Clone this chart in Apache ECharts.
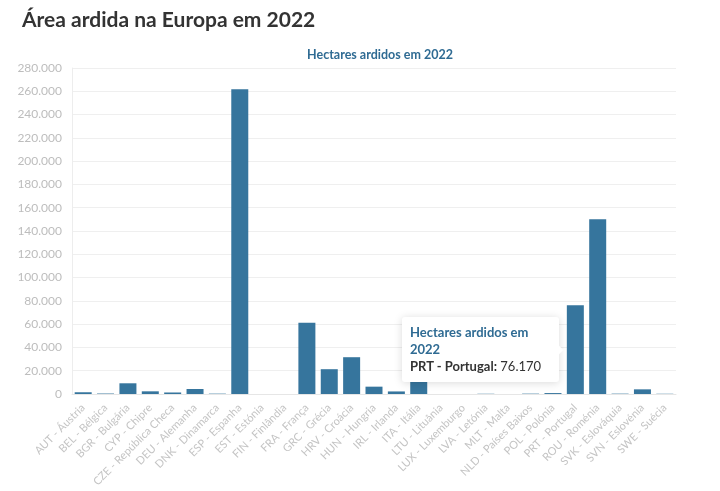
<!DOCTYPE html>
<html>
<head>
<meta charset="utf-8">
<script src="https://cdn.jsdelivr.net/npm/echarts@6/dist/echarts.min.js"></script>
<style>
  html, body { margin: 0; padding: 0; background: #fff; }
  #chart { width: 720px; height: 491px; }
</style>
</head>
<body>
<div id="chart"></div>
<script>
var countries = [
    'AUT - Áustria', 'BEL - Bélgica', 'BGR - Bulgária', 'CYP - Chipre', 'CZE - República Checa',
    'DEU - Alemanha', 'DNK - Dinamarca', 'ESP - Espanha', 'EST - Estónia', 'FIN - Finlândia',
    'FRA - França', 'GRC - Grécia', 'HRV - Croácia', 'HUN - Hungria', 'IRL - Irlanda',
    'ITA - Itália', 'LTU - Lituânia', 'LUX - Luxemburgo', 'LVA - Letónia', 'MLT - Malta',
    'NLD - Países Baixos', 'POL - Polónia', 'PRT - Portugal', 'ROU - Roménia', 'SVK - Eslováquia',
    'SVN - Eslovénia', 'SWE - Suécia'
];
var hectares = [
    1500, 400, 9200, 2300, 1300,
    4300, 300, 261800, 0, 0,
    61300, 21300, 31600, 6300, 2200,
    11000, 0, 0, 200, 0,
    300, 800, 76170, 150000, 300,
    4000, 200
];
var highlightIndex = 22;
var seriesName = 'Hectares ardidos em 2022';

function fmt(v) {
    return String(Math.round(v)).replace(/\B(?=(\d{3})+(?!\d))/g, '.');
}

var chart = echarts.init(document.getElementById('chart'));
chart.setOption({
    animation: false,
    textStyle: { fontFamily: 'Lato' },
    title: [
        {
            text: 'Área ardida na Europa em 2022',
            left: 17,
            top: 5,
            textStyle: { fontFamily: 'Lato', fontSize: 21, fontWeight: 'bold', color: '#333' }
        },
        {
            text: seriesName,
            left: 375,
            textAlign: 'center',
            top: 43,
            textStyle: { fontFamily: 'Lato', fontSize: 12.5, fontWeight: 'bold', color: '#2f6b93' }
        }
    ],
    tooltip: {
        trigger: 'item',
        position: 'left',
        alwaysShowContent: true,
        triggerOn: 'none',
        backgroundColor: '#fff',
        borderColor: '#fff',
        borderWidth: 0,
        padding: [7, 8],
        extraCssText: 'box-shadow: 0 1px 8px rgba(0,0,0,0.15); border-radius: 3px;',
        formatter: function (p) {
            return '<div style="width:141px;white-space:normal;font-family:Lato;font-size:13px;line-height:17px;">' +
                '<div style="color:#2f6b93;font-weight:bold;">' + p.seriesName + '</div>' +
                '<div style="color:#333;"><b>' + p.name + ':</b> ' + fmt(p.value) + '</div></div>';
        }
    },
    grid: { left: 72, right: 44, top: 68, bottom: 97 },
    xAxis: {
        type: 'category',
        data: countries,
        axisLine: { lineStyle: { color: '#e6e6e6' } },
        axisTick: { lineStyle: { color: '#e0e0e0' }, length: 4 },
        axisLabel: { rotate: 45, color: '#c4c4c4', fontSize: 11, interval: 0, margin: 12 }
    },
    yAxis: {
        type: 'value',
        min: 0,
        max: 280000,
        interval: 20000,
        axisLine: { show: true, lineStyle: { color: '#ededed' } },
        axisTick: { show: false },
        splitLine: { lineStyle: { color: '#efefef' } },
        axisLabel: { color: '#bdbdbd', fontSize: 12, margin: 10, formatter: fmt }
    },
    series: [{
        name: seriesName,
        type: 'bar',
        data: hectares,
        barCategoryGap: '24%',
        itemStyle: { color: '#36759d' }
    }]
});
chart.dispatchAction({ type: 'showTip', seriesIndex: 0, dataIndex: highlightIndex });
</script>
</body>
</html>
